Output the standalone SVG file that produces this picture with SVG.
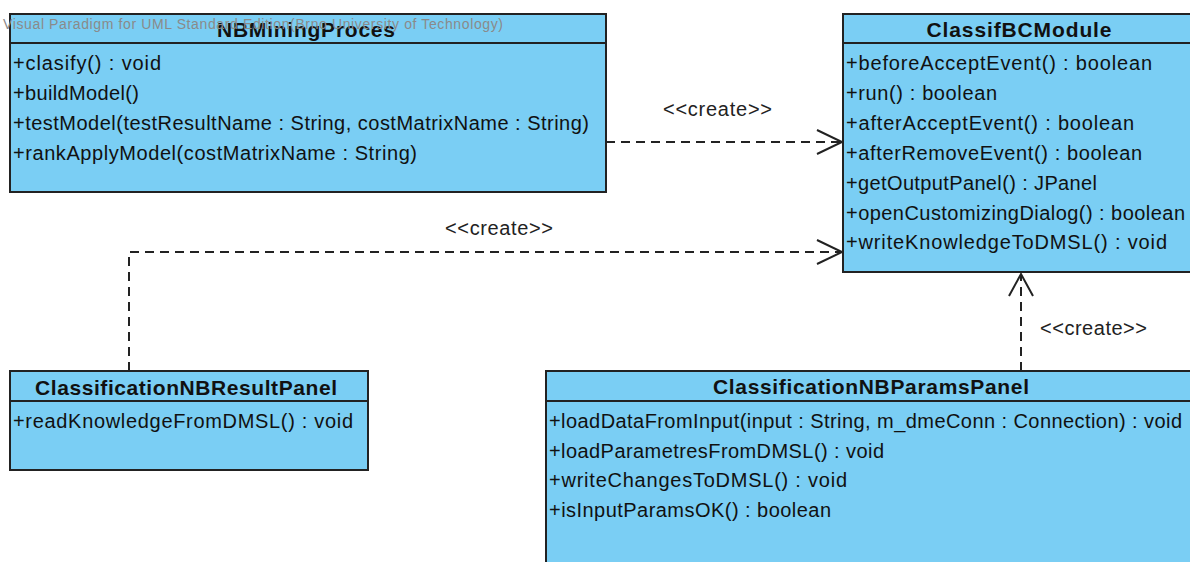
<svg xmlns="http://www.w3.org/2000/svg" width="1190" height="562" viewBox="0 0 1190 562">
<style>
.box{fill:#7ACEF4;stroke:#222;stroke-width:2}
.div{stroke:#222;stroke-width:2}
.hd{font-family:"Liberation Sans",Arial,sans-serif;font-weight:bold;font-size:21px;fill:#111;text-anchor:middle}
.op{font-family:"Liberation Sans",Arial,sans-serif;font-size:20px;fill:#111}
.lbl{font-family:"Liberation Sans",Arial,sans-serif;font-size:20px;fill:#222}
.wm{font-family:"Liberation Sans",Arial,sans-serif;font-size:14px;fill:#8a8a8a}
.dep{fill:none;stroke:#222;stroke-width:2;stroke-dasharray:9 6}
.arr{fill:none;stroke:#222;stroke-width:2}
</style>
<rect width="1190" height="562" fill="#fff"/>

<g id="connectors">
  <line class="dep" x1="606" y1="142" x2="840" y2="142"/>
  <polyline class="arr" points="817,130 842,142 817,154"/>
  <text class="lbl" x="663" y="116" textLength="109" lengthAdjust="spacing">&lt;&lt;create&gt;&gt;</text>

  <polyline class="dep" points="129,371 129,252 840,252"/>
  <polyline class="arr" points="817,240 842,252 817,264"/>
  <text class="lbl" x="445" y="235" textLength="108" lengthAdjust="spacing">&lt;&lt;create&gt;&gt;</text>

  <line class="dep" x1="1021" y1="371" x2="1021" y2="276"/>
  <polyline class="arr" points="1009,296 1021,274 1033,296"/>
  <text class="lbl" x="1040" y="335" textLength="107" lengthAdjust="spacing">&lt;&lt;create&gt;&gt;</text>
</g>

<g id="NBMiningProces">
  <rect class="box" x="10" y="14" width="596" height="178"/>
  <line class="div" x1="10" y1="43" x2="606" y2="43"/>
  <text class="hd" x="306" y="37" textLength="178" lengthAdjust="spacing">NBMiningProces</text>
  <text class="op" x="13" y="70" textLength="148" lengthAdjust="spacing">+clasify() : void</text>
  <text class="op" x="13" y="100" textLength="126" lengthAdjust="spacing">+buildModel()</text>
  <text class="op" x="13" y="130" textLength="576" lengthAdjust="spacing">+testModel(testResultName : String, costMatrixName : String)</text>
  <text class="op" x="13" y="160" textLength="404" lengthAdjust="spacing">+rankApplyModel(costMatrixName : String)</text>
</g>

<g id="ClassifBCModule">
  <rect class="box" x="843" y="14" width="352" height="258"/>
  <line class="div" x1="843" y1="43" x2="1190" y2="43"/>
  <text class="hd" x="1019" y="37" textLength="185" lengthAdjust="spacing">ClassifBCModule</text>
  <text class="op" x="846" y="70" textLength="306" lengthAdjust="spacing">+beforeAcceptEvent() : boolean</text>
  <text class="op" x="846" y="100" textLength="151" lengthAdjust="spacing">+run() : boolean</text>
  <text class="op" x="846" y="130" textLength="288" lengthAdjust="spacing">+afterAcceptEvent() : boolean</text>
  <text class="op" x="846" y="160" textLength="296" lengthAdjust="spacing">+afterRemoveEvent() : boolean</text>
  <text class="op" x="846" y="190" textLength="251" lengthAdjust="spacing">+getOutputPanel() : JPanel</text>
  <text class="op" x="846" y="220" textLength="339" lengthAdjust="spacing">+openCustomizingDialog() : boolean</text>
  <text class="op" x="846" y="249" textLength="321" lengthAdjust="spacing">+writeKnowledgeToDMSL() : void</text>
</g>

<g id="ClassificationNBResultPanel">
  <rect class="box" x="10" y="371" width="358" height="99"/>
  <line class="div" x1="10" y1="401" x2="368" y2="401"/>
  <text class="hd" x="186" y="395" textLength="302" lengthAdjust="spacing">ClassificationNBResultPanel</text>
  <text class="op" x="13" y="428" textLength="340" lengthAdjust="spacing">+readKnowledgeFromDMSL() : void</text>
</g>

<g id="ClassificationNBParamsPanel">
  <rect class="box" x="546" y="371" width="660" height="200"/>
  <line class="div" x1="546" y1="401" x2="1190" y2="401"/>
  <text class="hd" x="871" y="394" textLength="316" lengthAdjust="spacing">ClassificationNBParamsPanel</text>
  <text class="op" x="549" y="428" textLength="633" lengthAdjust="spacing">+loadDataFromInput(input : String, m_dmeConn : Connection) : void</text>
  <text class="op" x="549" y="458" textLength="335" lengthAdjust="spacing">+loadParametresFromDMSL() : void</text>
  <text class="op" x="549" y="487" textLength="298" lengthAdjust="spacing">+writeChangesToDMSL() : void</text>
  <text class="op" x="549" y="517" textLength="282" lengthAdjust="spacing">+isInputParamsOK() : boolean</text>
</g>

<text class="wm" x="3" y="29" textLength="500" lengthAdjust="spacing">Visual Paradigm for UML Standard Edition(Brno University of Technology)</text>
</svg>
